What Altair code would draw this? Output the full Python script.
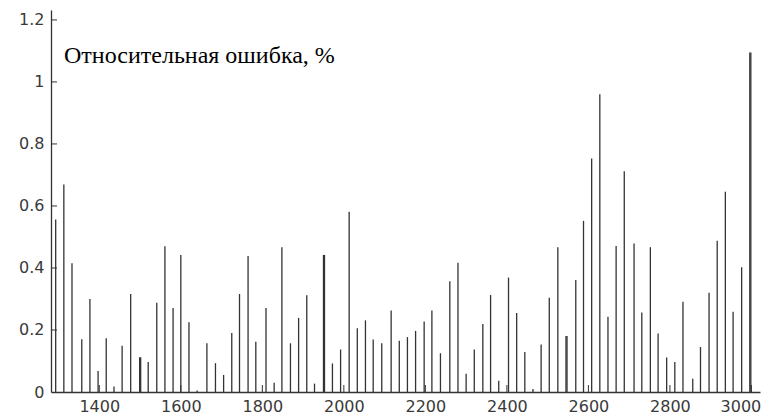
import altair as alt
import pandas as pd

# stem positions (x) and relative error values (%)
xs = [1293, 1313, 1333, 1357, 1377, 1397, 1417, 1436, 1456, 1477,
      1499, 1501.5, 1520, 1541, 1561, 1581, 1600, 1620, 1640, 1664,
      1685, 1705, 1725, 1744, 1765, 1784, 1809, 1829, 1848, 1869,
      1889, 1909, 1928, 1950, 1952.5, 1972, 1992, 2013, 2033, 2053,
      2072, 2093, 2116, 2136, 2156, 2176, 2197, 2216, 2237, 2260,
      2280, 2300, 2320, 2341, 2360, 2380, 2404, 2424, 2444, 2464,
      2484, 2504, 2525, 2545, 2547.5, 2569, 2588, 2608, 2628, 2648,
      2668, 2688, 2712, 2731, 2752, 2771, 2792, 2812, 2832, 2856,
      2875, 2896, 2916, 2936, 2955, 2976, 2996, 2998.5]
vals = [0.556, 0.669, 0.415, 0.170, 0.300, 0.068, 0.173, 0.018, 0.149, 0.316,
        0.112, 0.112, 0.097, 0.288, 0.470, 0.271, 0.442, 0.225, 0.005, 0.157,
        0.093, 0.055, 0.190, 0.316, 0.439, 0.162, 0.271, 0.030, 0.467, 0.157,
        0.239, 0.312, 0.027, 0.442, 0.442, 0.092, 0.137, 0.581, 0.206, 0.231,
        0.169, 0.157, 0.263, 0.165, 0.177, 0.197, 0.227, 0.263, 0.125, 0.357,
        0.417, 0.059, 0.137, 0.219, 0.313, 0.036, 0.369, 0.255, 0.129, 0.010,
        0.153, 0.304, 0.467, 0.181, 0.181, 0.361, 0.552, 0.753, 0.960, 0.243,
        0.471, 0.712, 0.479, 0.256, 0.467, 0.189, 0.111, 0.097, 0.291, 0.043,
        0.145, 0.320, 0.488, 0.646, 0.259, 0.402, 1.095, 1.095]

x_ticks = [1400, 1600, 1800, 2000, 2200, 2400, 2600, 2800, 3000]
y_ticks = [0, 0.2, 0.4, 0.6, 0.8, 1.0, 1.2]
label_text = "Относительная ошибка, %"

W, H = 709, 382
xscale = alt.Scale(domain=[1281.5, 3021], nice=False, zero=False)
yscale = alt.Scale(domain=[0, 1.232], nice=False)

df = pd.DataFrame({"x": xs, "v": vals})
dxt = pd.DataFrame({"x": x_ticks})
dyt = pd.DataFrame({"v": y_ticks[1:]})
dtxt = pd.DataFrame({"t": [label_text]})

stems = alt.Chart(df).mark_rule(color="#333333", strokeWidth=1.3).encode(
    x=alt.X("x:Q", scale=xscale, title=None,
            axis=alt.Axis(values=x_ticks, format="d", title=None, grid=False,
                          ticks=False, tickSize=0, labelPadding=6,
                          labelOffset=alt.expr("datum.value == 3000 ? -11 : 0"),
                          labelFont="DejaVu Sans", labelFontSize=16,
                          labelColor="#3a3a3a", domainColor="#333333",
                          domainWidth=1.3)),
    y=alt.Y("v:Q", scale=yscale, title=None,
            axis=alt.Axis(values=y_ticks, format="~g", title=None, grid=False,
                          ticks=False, tickSize=0, labelPadding=7,
                          labelFont="DejaVu Sans", labelFontSize=16,
                          labelColor="#3a3a3a", domainColor="#333333",
                          domainWidth=1.3)),
    y2=alt.datum(0),
)

xtick_marks = alt.Chart(dxt).mark_rule(color="#333333", strokeWidth=1).encode(
    x=alt.X("x:Q", scale=xscale, title=None),
    y=alt.value(H),
    y2=alt.value(H - 7),
)

ytick_marks = alt.Chart(dyt).mark_rule(color="#333333", strokeWidth=1).encode(
    y=alt.Y("v:Q", scale=yscale, title=None),
    x=alt.value(0),
    x2=alt.value(6),
)

label = alt.Chart(dtxt).mark_text(
    font="Liberation Serif, Times New Roman, serif", fontSize=24, color="#000000",
    align="left", baseline="alphabetic"
).encode(text="t:N", x=alt.value(13), y=alt.value(52.5))

chart = alt.layer(stems, xtick_marks, ytick_marks, label).properties(
    width=W, height=H,
    autosize=alt.AutoSizeParams(type="none"),
    padding={"left": 43, "top": 2, "right": 3, "bottom": 22},
    background="white",
).configure_view(stroke=None)

chart.save("out.html", embed_options={"renderer": "svg", "actions": False})
